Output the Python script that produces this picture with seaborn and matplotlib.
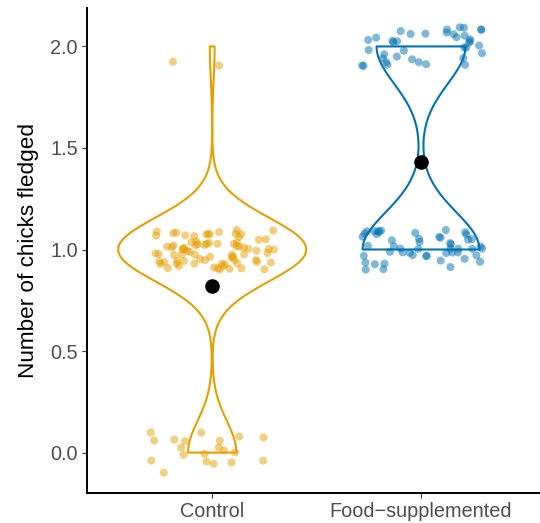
import numpy as np
import pandas as pd
import matplotlib
matplotlib.use("Agg")
import matplotlib.pyplot as plt
import seaborn as sns

# ---- data (counts of nests by number of chicks fledged) ----
groups = ["Control", "Food\u2212supplemented"]
chick_values = [0, 1, 2]
control_counts = [20, 78, 2]
food_counts = [0, 50, 38]
colors = ["#E69F00", "#0072B2"]
y_ticks = [0.0, 0.5, 1.0, 1.5, 2.0]
y_label = "Number of chicks fledged"

rows = []
for g, counts in zip(groups, [control_counts, food_counts]):
    for v, c in zip(chick_values, counts):
        rows += [(g, v)] * c
df = pd.DataFrame(rows, columns=["group", "chicks"])

# display-only vertical jitter (as geom_jitter)
rng = np.random.default_rng(7)
df["chicks_jit"] = df["chicks"] + rng.uniform(-0.1, 0.1, len(df))
np.random.seed(3)

means = df.groupby("group", sort=False)["chicks"].mean().reindex(groups).reset_index()

sns.set_style("white")
plt.rcParams["font.family"] = ["Liberation Sans", "DejaVu Sans"]

fig = plt.figure(figsize=(5.4, 5.23), dpi=100)
ax = fig.add_axes([0.161, 0.057, 0.839, 0.928])

pal = dict(zip(groups, colors))
sns.stripplot(data=df, x="group", y="chicks_jit", hue="group", palette=pal,
              order=groups, hue_order=groups, jitter=0.31, size=5.8, alpha=0.5,
              linewidth=0, legend=False, ax=ax, zorder=1)
sns.violinplot(data=df, x="group", y="chicks", hue="group", palette=pal,
               order=groups, hue_order=groups, fill=False, inner=None, cut=0,
               density_norm="area", common_norm=True, bw_method="scott",
               bw_adjust=0.9, width=0.9, linewidth=1.5, legend=False, ax=ax)
sns.stripplot(data=means, x="group", y="chicks", order=groups, color="black",
              jitter=False, size=10.5, linewidth=0, ax=ax, zorder=5)

ax.set_xlim(-0.6, 1.57)
ax.set_ylim(-0.2, 2.19)
ax.set_yticks(y_ticks)
ax.set_yticklabels([f"{t:.1f}" for t in y_ticks])
ax.set_xlabel("")
ax.set_ylabel(y_label, fontsize=16.2, color="black", labelpad=8)
ax.tick_params(axis="both", labelsize=14.3, labelcolor="#4D4D4D", color="#333333",
               length=3.5, width=0.8, left=True, bottom=True, pad=3)
for s in ["top", "right"]:
    ax.spines[s].set_visible(False)
for s in ["left", "bottom"]:
    ax.spines[s].set_color("black")
    ax.spines[s].set_linewidth(1.4)

fig.savefig("out.png", dpi=100)
